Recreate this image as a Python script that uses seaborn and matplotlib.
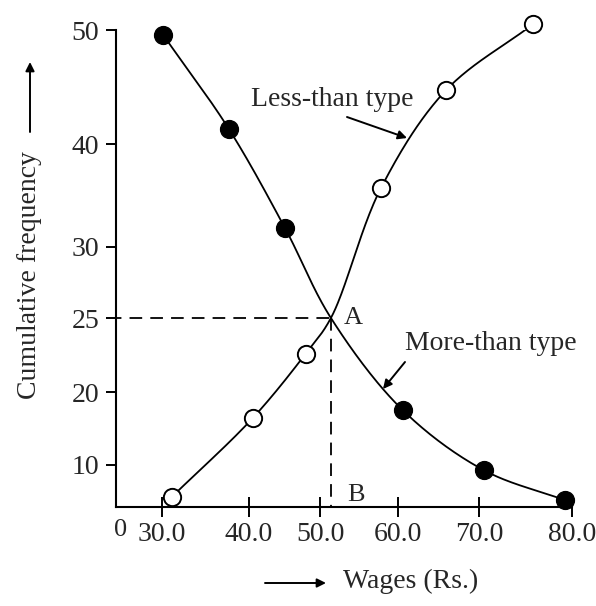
"""
Ogive chart: less-than and more-than cumulative frequency curves of wages,
intersecting at the median point A.
"""

import numpy as np
import matplotlib
matplotlib.use("Agg")
import matplotlib.pyplot as plt
import seaborn as sns

# ---------------------------------------------------------------------------
# Data
# ---------------------------------------------------------------------------
less_x = [31.1, 40.5, 48.0, 57.8, 65.9, 75.8]
less_y = [5.6, 16.4, 22.6, 35.7, 44.7, 50.5]

more_x = [30.1, 37.7, 45.1, 60.6, 70.5, 79.2]
more_y = [49.6, 41.3, 31.8, 17.5, 9.3, 5.2]

median_x, median_y = 51.4, 25.0

x_ticks = [30, 40, 50, 60, 70, 80]
x_tick_labels = ["30.0", "40.0", "50.0", "60.0", "70.0", "80.0"]
y_ticks = [10, 20, 25, 30, 40, 50]
y_tick_labels = ["10", "20", "25", "30", "40", "50"]

# ---------------------------------------------------------------------------
# The printed axes are hand-spaced, so use piecewise-linear scales
# calibrated on the tick marks (pixel positions in the 596x606 figure)
# ---------------------------------------------------------------------------
W, H = 596, 606
x_tick_px = [162, 249, 320, 398, 479, 572]
y_tick_px = [-465, -392, -318, -247, -144, -30]


def piecewise(src, dst):
    src = np.asarray(src, float)
    dst = np.asarray(dst, float)

    def f(v):
        v = np.asarray(v, float)
        out = np.interp(v, src, dst)
        lo_slope = (dst[1] - dst[0]) / (src[1] - src[0])
        hi_slope = (dst[-1] - dst[-2]) / (src[-1] - src[-2])
        out = np.where(v < src[0], dst[0] + (v - src[0]) * lo_slope, out)
        out = np.where(v > src[-1], dst[-1] + (v - src[-1]) * hi_slope, out)
        return out
    return f


fx, ix = piecewise(x_ticks, x_tick_px), piecewise(x_tick_px, x_ticks)
fy, iy = piecewise(y_ticks, y_tick_px), piecewise(y_tick_px, y_ticks)


def smooth(xs, ys, n=40, alpha=0.5):
    # centripetal Catmull-Rom through the knots, built in screen space
    P = np.column_stack([fx(xs), fy(ys)])
    P = np.vstack([2 * P[0] - P[1], P, 2 * P[-1] - P[-2]])
    out = []
    for i in range(1, len(P) - 2):
        p0, p1, p2, p3 = P[i - 1], P[i], P[i + 1], P[i + 2]
        t0 = 0.0
        t1 = t0 + np.linalg.norm(p1 - p0) ** alpha
        t2 = t1 + np.linalg.norm(p2 - p1) ** alpha
        t3 = t2 + np.linalg.norm(p3 - p2) ** alpha
        t = np.linspace(t1, t2, n, endpoint=False)[:, None]
        a1 = (t1 - t) / (t1 - t0) * p0 + (t - t0) / (t1 - t0) * p1
        a2 = (t2 - t) / (t2 - t1) * p1 + (t - t1) / (t2 - t1) * p2
        a3 = (t3 - t) / (t3 - t2) * p2 + (t - t2) / (t3 - t2) * p3
        b1 = (t2 - t) / (t2 - t0) * a1 + (t - t0) / (t2 - t0) * a2
        b2 = (t3 - t) / (t3 - t1) * a2 + (t - t1) / (t3 - t1) * a3
        out.append((t2 - t) / (t2 - t1) * b1 + (t - t1) / (t2 - t1) * b2)
    out.append(P[-2][None])
    out = np.vstack(out)
    return ix(out[:, 0]), iy(out[:, 1])


# both ogives pass through the median point A
less_kx = less_x[:3] + [median_x] + less_x[3:]
less_ky = less_y[:3] + [median_y] + less_y[3:]
more_kx = more_x[:3] + [median_x] + more_x[3:]
more_ky = more_y[:3] + [median_y] + more_y[3:]
less_cx, less_cy = smooth(less_kx, less_ky)
more_cx, more_cy = smooth(more_kx, more_ky)

# ---------------------------------------------------------------------------
# Plot
# ---------------------------------------------------------------------------
sns.set_style("ticks")
plt.rcParams["font.family"] = ["Liberation Serif", "DejaVu Serif"]
plt.rcParams["font.size"] = 20

fig = plt.figure(figsize=(W / 100, H / 100), dpi=100)
ax = fig.add_axes([116 / W, 1 - 507 / H, (572 - 116) / W, (507 - 30) / H])

sns.lineplot(x=less_cx, y=less_cy, sort=False, estimator=None,
             color="black", linewidth=1.3, ax=ax)
sns.lineplot(x=more_cx, y=more_cy, sort=False, estimator=None,
             color="black", linewidth=1.3, ax=ax)

sns.scatterplot(x=more_x, y=more_y, s=165, color="black", edgecolor="black",
                linewidth=1.0, zorder=5, clip_on=False, ax=ax)
sns.scatterplot(x=less_x, y=less_y, s=155, color="white", edgecolor="black",
                linewidth=1.4, zorder=5, clip_on=False, ax=ax)

ax.set_xscale("function", functions=(fx, ix))
ax.set_yscale("function", functions=(fy, iy))
x_left = float(ix(116))
y_bottom = float(iy(-507))
ax.set_xlim(x_left, 80)
ax.set_ylim(y_bottom, 50)

# dashed guide lines to the median
dash = (0, (7, 4.5))
ax.plot([x_left, median_x], [median_y, median_y], color="black", lw=1.3,
        linestyle=(4, (7, 4.5)))
ax.plot([median_x, median_x], [median_y, y_bottom], color="black", lw=1.3,
        linestyle=dash)

ax.set_xticks(x_ticks)
ax.set_xticklabels(x_tick_labels)
ax.set_yticks(y_ticks)
ax.set_yticklabels(y_tick_labels)
ax.minorticks_off()
ax.tick_params(axis="x", direction="inout", length=14, width=1.4, pad=4,
               labelsize=20, color="black")
ax.tick_params(axis="y", direction="out", length=7, width=1.4, pad=5,
               labelsize=20, color="black")
sns.despine(ax=ax)
for side in ["left", "bottom"]:
    ax.spines[side].set_linewidth(1.5)
    ax.spines[side].set_color("black")
ax.set_xlabel("")
ax.set_ylabel("")


def ftext(px, py, s, **kw):
    fig.text(px / W, 1 - py / H, s, **kw)


def farrow(p0, p1):
    ax.annotate("", xy=(p1[0] / W, 1 - p1[1] / H), xycoords="figure fraction",
                xytext=(p0[0] / W, 1 - p0[1] / H), textcoords="figure fraction",
                arrowprops=dict(arrowstyle="-|>", color="black", lw=1.4,
                                mutation_scale=13, shrinkA=0, shrinkB=0))


ftext(353, 318, "A", ha="center", va="center", fontsize=19)
ftext(356, 495, "B", ha="center", va="center", fontsize=19)
ftext(121, 530, "0", ha="center", va="center", fontsize=19)

ftext(332, 100, "Less-than type", ha="center", va="center", fontsize=20)
farrow((347, 117), (407, 138))
ftext(491, 343, "More-than type", ha="center", va="center", fontsize=20)
farrow((405, 362), (383, 389))

# axis titles with their arrows
ftext(30, 275, "Cumulative frequency", ha="center", va="center",
      rotation=90, fontsize=20)
farrow((30, 132), (30, 62))
ftext(343, 581, "Wages (Rs.)", ha="left", va="center", fontsize=20)
farrow((265, 583), (326, 583))

plt.savefig("out.png", dpi=100)
